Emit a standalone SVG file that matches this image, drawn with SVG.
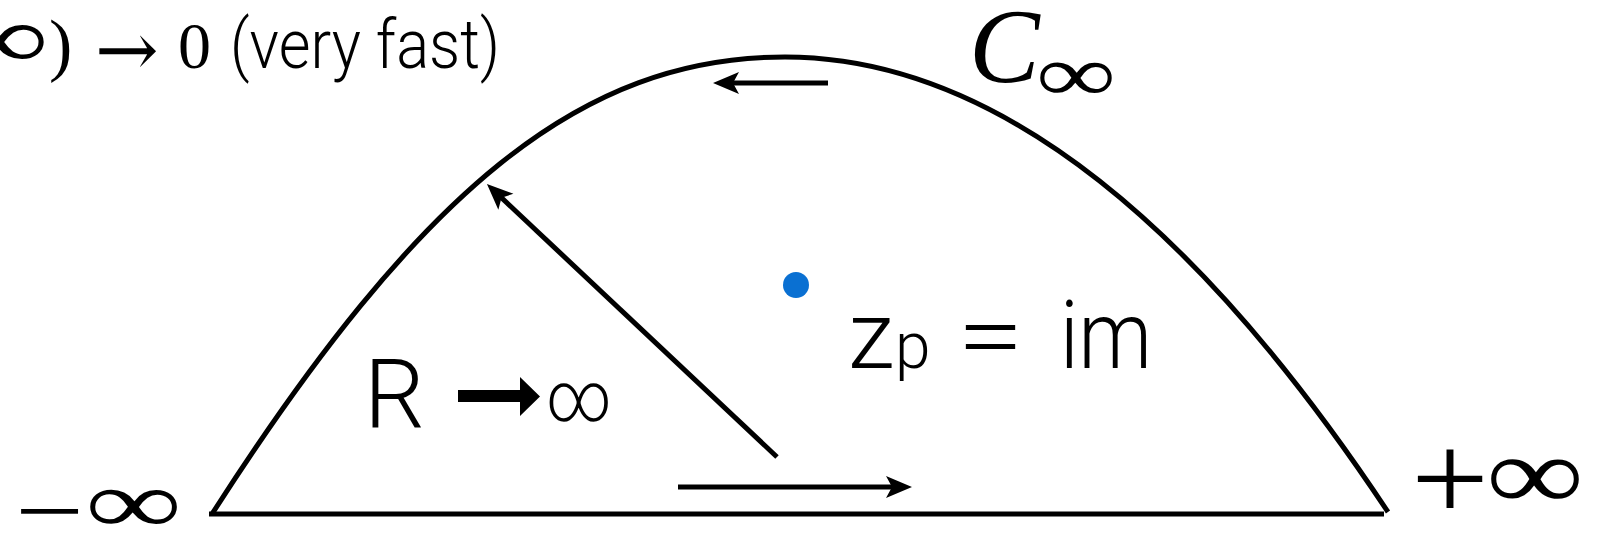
<svg xmlns="http://www.w3.org/2000/svg" width="1602" height="537" viewBox="0 0 1602 537">
<style>
.ln{fill:none;stroke:#000;stroke-width:5;stroke-linecap:butt}
.ar{fill:none;stroke:#000;stroke-width:5}
.serif{font-family:"Liberation Serif","DejaVu Serif",serif;fill:#000}
.sans{font-family:Roboto,"Liberation Sans",sans-serif;font-weight:300;fill:#000}
</style>
<defs>
<marker id="head" markerUnits="userSpaceOnUse" viewBox="-1 -12 28 24" refX="10" refY="0" markerWidth="28" markerHeight="24" orient="auto" overflow="visible">
<path d="M26,0 L0,-11 L6,0 L0,11 Z" fill="#000"/>
</marker>
</defs>
<g id="connectors">
<path class="ln" d="M212,514 C420,190 580,57 785,57 C986,57 1187,209 1388,512"/>
<line class="ln" x1="209" y1="514" x2="1384" y2="514"/>
<line class="ar" x1="828" y1="83" x2="729" y2="83" marker-end="url(#head)"/>
<line class="ar" x1="777" y1="457" x2="498.6" y2="195" marker-end="url(#head)"/>
<line class="ar" x1="678" y1="487" x2="896" y2="487" marker-end="url(#head)"/>
</g>
<g id="note">
<text class="serif" x="-52" y="68" font-size="90"><tspan textLength="101" lengthAdjust="spacingAndGlyphs">∞</tspan><tspan x="49" font-size="70">)</tspan></text>
<text x="95" y="76" font-size="76" font-family="DejaVu Serif, serif">→</text>
<text class="serif" x="178" y="68" font-size="66">0</text>
<text class="sans" x="230" y="68" font-size="68" textLength="270" lengthAdjust="spacingAndGlyphs">(very fast)</text>
</g>
<g id="c-inf">
<text class="serif" x="969" y="82" font-size="106" font-style="italic">C<tspan x="1036" y="101" font-size="80" font-style="normal" textLength="80" lengthAdjust="spacingAndGlyphs">∞</tspan></text>
</g>
<g id="minus-inf">
<text class="serif" x="15" y="543" font-size="95"><tspan textLength="69" lengthAdjust="spacingAndGlyphs">−</tspan><tspan x="85" y="533" font-size="90" textLength="97" lengthAdjust="spacingAndGlyphs">∞</tspan></text>
</g>
<g id="plus-inf">
<text class="serif" x="1411" y="520" font-size="124"><tspan textLength="78" lengthAdjust="spacingAndGlyphs">+</tspan><tspan x="1486" y="509" font-size="104" textLength="98" lengthAdjust="spacingAndGlyphs">∞</tspan></text>
</g>
<g id="r-limit">
<text class="sans" x="364" y="428" font-size="96">R</text>
<path d="M458,390 H520 V377 L540,396.5 L520,416 V402 H458 Z" fill="#000"/>
<text class="sans" x="546" y="421" font-size="70" textLength="66" lengthAdjust="spacingAndGlyphs">∞</text>
</g>
<g id="pole">
<circle cx="796" cy="285" r="13" fill="#0a70d2"/>
<text class="sans" y="368" font-size="95"><tspan x="848">z</tspan><tspan x="895" font-size="64">p</tspan> <tspan x="957" textLength="67" lengthAdjust="spacingAndGlyphs">=</tspan> <tspan x="1060" textLength="92" lengthAdjust="spacingAndGlyphs">im</tspan></text>
</g>
</svg>
